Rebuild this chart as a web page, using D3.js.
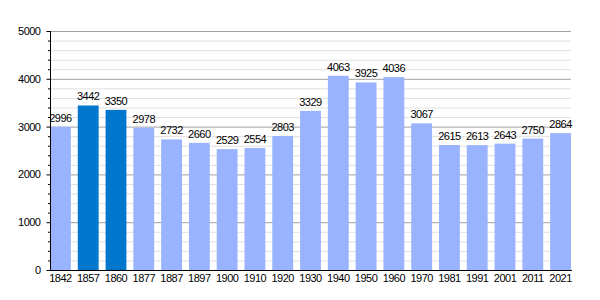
<!DOCTYPE html>
<html><head><meta charset="utf-8">
<script src="https://cdn.jsdelivr.net/npm/d3@7"></script>
<style>body{margin:0;background:#fff}svg{display:block}text{font-family:"Liberation Sans",Arial,sans-serif;font-size:11px;letter-spacing:-0.5px;fill:#000}</style>
</head><body>
<svg id="c" width="600" height="300"></svg>
<script>
const years = ["1842","1857","1860","1877","1887","1897","1900","1910","1920","1930","1940","1950","1960","1970","1981","1991","2001","2011","2021"];
const population = [2996,3442,3350,2978,2732,2660,2529,2554,2803,3329,4063,3925,4036,3067,2615,2613,2643,2750,2864];
const highlighted = ["1857","1860"];
const yTicks = [0,1000,2000,3000,4000,5000];

const svg = d3.select("#c");
const L = 50, R = 571, T = 31, B = 270;
const FONT = '"Liberation Sans",Arial,sans-serif';
const x = d3.scaleBand().domain(years).range([L, R]).paddingInner(0.25).paddingOuter(0);
const y = d3.scaleLinear().domain([0, 5000]).range([B, T]);
const minor = d3.range(0, 5001, 200);

svg.append("g").selectAll("line").data(minor.filter(v => v % 1000 !== 0)).join("line")
  .attr("x1", L).attr("x2", R).attr("y1", d => y(d) + 0.5).attr("y2", d => y(d) + 0.5)
  .attr("stroke", "#e0e0e0");
svg.append("g").selectAll("line").data(yTicks.filter(v => v > 0)).join("line")
  .attr("x1", L).attr("x2", R).attr("y1", d => y(d) + 0.5).attr("y2", d => y(d) + 0.5)
  .attr("stroke", "#a0a0a0");

svg.append("g").selectAll("rect").data(years).join("rect")
  .attr("x", d => x(d)).attr("width", x.bandwidth())
  .attr("y", (d, i) => y(population[i])).attr("height", (d, i) => B - y(population[i]))
  .attr("fill", d => highlighted.includes(d) ? "#0077cc" : "#99b3ff");

svg.append("g").selectAll("text").data(years).join("text")
  .attr("x", d => x(d) + x.bandwidth() / 2).attr("y", (d, i) => y(population[i]) - 5)
  .attr("text-anchor", "middle").text((d, i) => population[i]);

// y axis
const ya = svg.append("g").attr("transform", `translate(${L + 0.5},0)`)
  .call(d3.axisLeft(y).tickValues(yTicks).tickSize(4).tickFormat(d3.format("d")));
ya.select(".domain").remove();
ya.selectAll("text").attr("x", -10).style("font-size", "11px").style("font-family", FONT);
ya.selectAll("line").attr("stroke", "#000");
svg.append("g").selectAll("line").data(minor.filter(v => v % 1000 !== 0)).join("line")
  .attr("x1", L - 2).attr("x2", L).attr("y1", d => y(d) + 0.5).attr("y2", d => y(d) + 0.5).attr("stroke", "#000");
svg.append("line").attr("x1", L + 0.5).attr("x2", L + 0.5).attr("y1", T).attr("y2", B + 1).attr("stroke", "#000");

// x axis
const xa = svg.append("g").attr("transform", `translate(0,${B + 0.5})`)
  .call(d3.axisBottom(x).tickSize(0).tickPadding(4));
xa.select(".domain").remove();
xa.selectAll("text").style("font-size", "11px").style("font-family", FONT);
svg.append("line").attr("x1", L).attr("x2", R + 1).attr("y1", B + 0.5).attr("y2", B + 0.5).attr("stroke", "#000");
</script>
</body></html>
